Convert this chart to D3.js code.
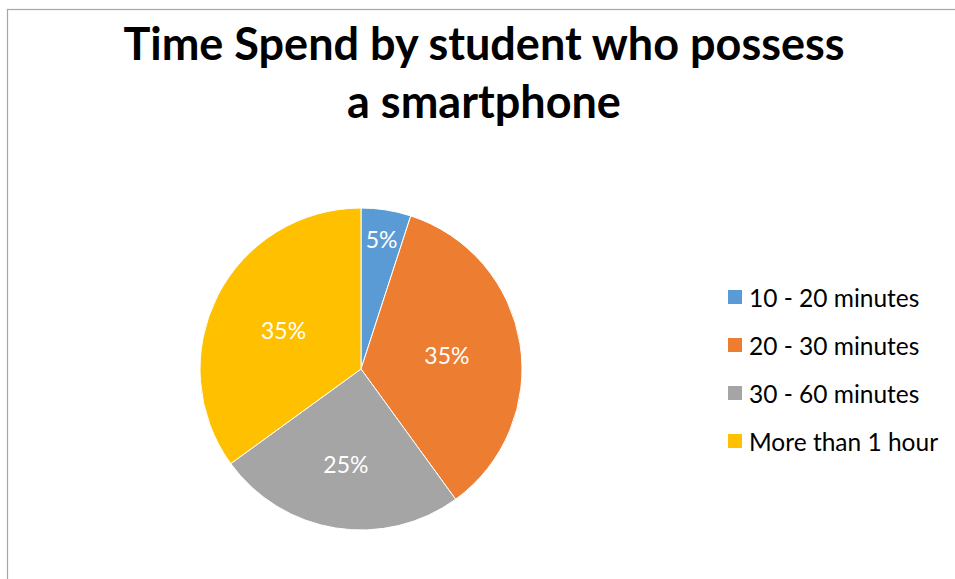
<!DOCTYPE html>
<html>
<head>
<meta charset="utf-8">
<script src="https://cdn.jsdelivr.net/npm/d3@7/dist/d3.min.js"></script>
<style>
  html, body { margin: 0; padding: 0; background: #fff; }
  svg { display: block; }
</style>
</head>
<body>
<svg id="chart" width="955" height="579"></svg>
<script>
// Share of students' daily smartphone time, by duration band
const categories = ["10 - 20 minutes", "20 - 30 minutes", "30 - 60 minutes", "More than 1 hour"];
const shares = [5, 35, 25, 35];
const colors = ["#5B9BD5", "#ED7D31", "#A5A5A5", "#FFC000"];
const titleLines = ["Time Spend by student who possess", "a smartphone"];

const W = 955, H = 579;
const svg = d3.select("#chart");
const FONT = "Lato, 'Open Sans', sans-serif";

// chart frame (continues past the right and bottom edges)
svg.append("rect")
  .attr("x", 7.5).attr("y", 9.5)
  .attr("width", 1200).attr("height", 1200)
  .attr("fill", "#fff")
  .attr("stroke", "#a6a6a6")
  .attr("stroke-width", 1.2);

// title
const title = svg.append("text")
  .attr("text-anchor", "middle")
  .attr("font-family", FONT)
  .attr("font-weight", 700)
  .attr("font-size", 45)
  .attr("fill", "#000");
title.selectAll("tspan")
  .data(titleLines)
  .join("tspan")
  .attr("x", 484)
  .attr("y", (d, i) => 60 + i * 58)
  .text(d => d);

// pie
const cx = 361, cy = 369, R = 161;
const data = categories.map((c, i) => ({ name: c, value: shares[i], color: colors[i] }));
const color = d3.scaleOrdinal().domain(categories).range(colors);
const pie = d3.pie().value(d => d.value).sort(null);
const arcs = pie(data);
const arc = d3.arc().innerRadius(0).outerRadius(R);

const g = svg.append("g").attr("transform", `translate(${cx},${cy})`);
g.selectAll("path.slice")
  .data(arcs)
  .join("path")
  .attr("class", "slice")
  .attr("d", arc)
  .attr("fill", d => color(d.data.name))
  .attr("stroke", "#fff")
  .attr("stroke-width", 1);

// value labels: placed at the area centroid of each sector,
// pushed outward when the slice is too narrow for the text
const labelSize = 23;
const labels = g.selectAll("text.val")
  .data(arcs)
  .join("text")
  .attr("class", "val")
  .attr("font-family", FONT)
  .attr("font-size", labelSize)
  .attr("fill", "#fff")
  .attr("text-anchor", "middle")
  .attr("dominant-baseline", "central")
  .text(d => d.data.value + "%");

labels.each(function (d) {
  const w = this.getComputedTextLength();
  const span = d.endAngle - d.startAngle;
  const half = span / 2;
  const centroidR = 2 * R * Math.sin(half) / (3 * half);
  let rho = Math.max(centroidR, (w + 10) / span);
  rho = Math.min(rho, 0.82 * R);
  const a = (d.startAngle + d.endAngle) / 2;
  d3.select(this)
    .attr("x", rho * Math.sin(a))
    .attr("y", -rho * Math.cos(a));
});

// legend
const legendY = d3.scalePoint().domain(categories).range([297, 441]);
const legend = svg.append("g");
const item = legend.selectAll("g")
  .data(data)
  .join("g")
  .attr("transform", d => `translate(728,${legendY(d.name)})`);
item.append("rect")
  .attr("x", 0).attr("y", -7)
  .attr("width", 14).attr("height", 14)
  .attr("fill", d => color(d.name));
item.append("text")
  .attr("x", 21)
  .attr("y", 0)
  .attr("dominant-baseline", "central")
  .attr("font-family", FONT)
  .attr("font-size", 24.5)
  .attr("fill", "#000")
  .text(d => d.name);
</script>
</body>
</html>
